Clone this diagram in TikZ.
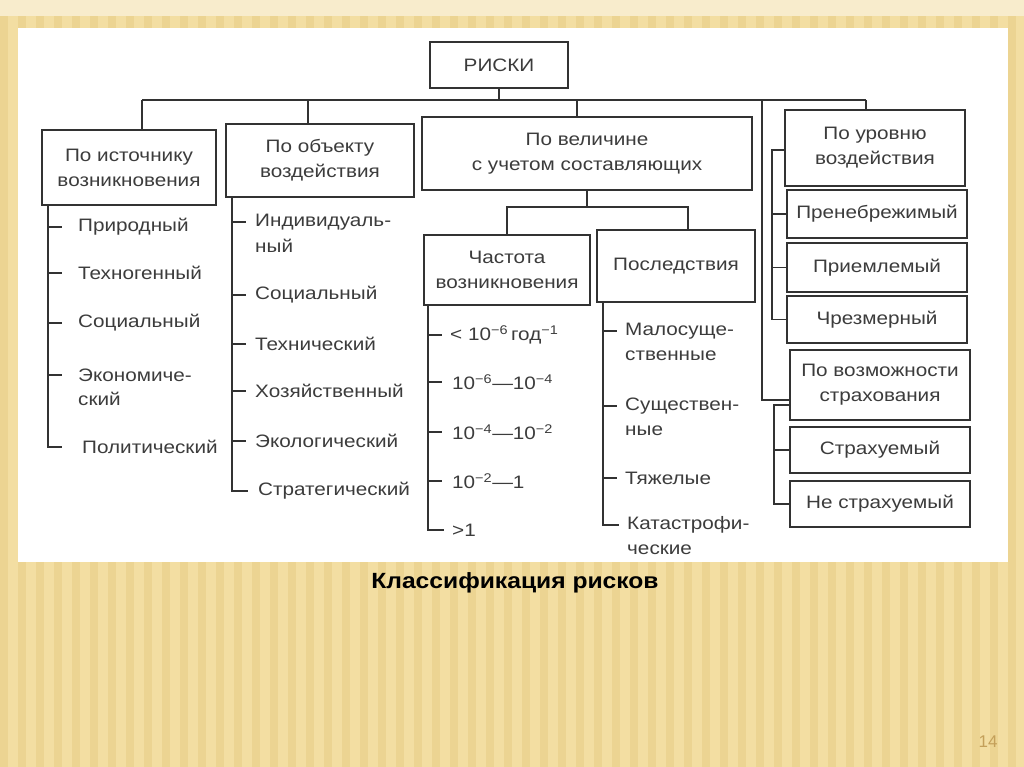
\documentclass[tikz,border=0pt]{standalone}
\usepackage{fontspec}
\setmainfont{Liberation Sans}
\newfontfamily\dfont[FakeStretch=1.15]{Liberation Sans}
\newfontfamily\cfont[FakeStretch=1.12]{Liberation Sans}
\definecolor{bgA}{RGB}{243,222,162}
\definecolor{bgB}{RGB}{236,212,146}
\definecolor{bgTop}{RGB}{248,236,204}
\definecolor{ink}{RGB}{50,50,50}
\definecolor{txt}{RGB}{60,60,60}
\definecolor{pg}{RGB}{196,160,90}
\begin{document}
\begin{tikzpicture}[x=1pt,y=-1pt,
  bx/.style={draw=ink, line width=1.4pt, fill=white, align=center,
    font=\dfont\fontsize{18}{25}\selectfont, text=txt, inner sep=2pt},
  lbl/.style={anchor=west, font=\dfont\fontsize{18}{25}\selectfont, text=txt, inner sep=0pt},
  ln/.style={draw=ink, line width=1.3pt}]
% background
\useasboundingbox (0,0) rectangle (1024,767);
\fill[bgA] (0,0) rectangle (1024,767);
\foreach \x in {0,18,...,1020} {\fill[bgB] (\x,0) rectangle ++(8,767);}
\fill[bgTop] (0,0) rectangle (1024,16);
\fill[white] (18,28) rectangle (1008,562);
% top
\node[bx, minimum width=138, minimum height=46] (riski) at (499,65) {РИСКИ};
\node[bx, minimum width=174, minimum height=75] (src) at (129,167.5) {По источнику\\возникновения};
\node[bx, minimum width=188, minimum height=73] (obj) at (320,160.5) {По объекту\\воздействия};
\node[bx, minimum width=330, minimum height=73] (mag) at (587,153.5) {По величине\\с учетом составляющих};
\node[bx, minimum width=180, minimum height=76] (lvl) at (875,148) {По уровню\\воздействия};
\node[bx, minimum width=166, minimum height=70] (freq) at (507,270) {Частота\\возникновения};
\node[bx, minimum width=158, minimum height=72] (cons) at (676,266) {Последствия};
\node[bx, minimum width=180, minimum height=48] (l1) at (877,214) {Пренебрежимый};
\node[bx, minimum width=180, minimum height=49] (l2) at (877,267.5) {Приемлемый};
\node[bx, minimum width=180, minimum height=47] (l3) at (877,319.5) {Чрезмерный};
\node[bx, minimum width=180, minimum height=70] (ins) at (880,385) {По возможности\\страхования};
\node[bx, minimum width=180, minimum height=46] (s1) at (880,450) {Страхуемый};
\node[bx, minimum width=180, minimum height=46] (s2) at (880,504) {Не страхуемый};
% bus
\coordinate (d1) at (142,100);
\coordinate (d2) at (308,100);
\coordinate (d3) at (577,100);
\coordinate (d5) at (762,100);
\coordinate (d4) at (866,100);
\draw[ln] (d1) -- (d4);
\draw[ln] (riski.south) -- (riski.south |- d1);
\draw[ln] (d1) -- (d1 |- src.north);
\draw[ln] (d2) -- (d2 |- obj.north);
\draw[ln] (d3) -- (d3 |- mag.north);
\draw[ln] (d4) -- (d4 |- lvl.north);
\draw[ln] (d5) |- ([yshift=-15]ins.west);
% magnitude branch
\coordinate (m1) at (587,207);
\draw[ln] (mag.south) -- (m1);
\draw[ln] (freq.north) |- (m1) -| ([xshift=12]cons.north);
% level branch
\coordinate (t5) at (772,150);
\draw[ln] (lvl.west |- t5) -- (t5) |- (l3.west);
\draw[ln] (l1.west -| t5) -- (l1.west);
\draw[ln] (l2.west -| t5) -- (l2.west);
% insurance branch
\coordinate (t6) at (774,405);
\draw[ln] (t6 -| ins.west) -- (t6) |- (s2.west);
\draw[ln] (s1.west -| t6) -- (s1.west);
% column 1
\coordinate (t1) at (48,205);
\node[lbl] (i1) at (78,227) {Природный};
\node[lbl] (i2) at (78,273) {Техногенный};
\node[lbl] (i3) at (78,323) {Социальный};
\node[lbl] (i4) at (78,375) {Экономиче-};
\node[lbl] (i4b) at (78,399) {ский};
\node[lbl] (i5) at (82,447) {Политический};
\draw[ln] (t1) |- ([xshift=-20]i5.west);
\foreach \n in {i1,i2,i3,i4} {\draw[ln] (\n.west -| t1) -- ++(14,0);}
% column 2
\coordinate (t2) at (232,197);
\node[lbl] (j1) at (255,222) {Индивидуаль-};
\node[lbl] (j1b) at (255,246) {ный};
\node[lbl] (j2) at (255,295) {Социальный};
\node[lbl] (j3) at (255,344) {Технический};
\node[lbl] (j4) at (255,391) {Хозяйственный};
\node[lbl] (j5) at (255,441) {Экологический};
\node[lbl] (j6) at (258,491) {Стратегический};
\draw[ln] (t2) |- ([xshift=-10]j6.west);
\foreach \n in {j1,j2,j3,j4,j5} {\draw[ln] (\n.west -| t2) -- ++(14,0);}
% frequency column
\coordinate (t3) at (428,305);
\node[lbl] (f1) at (450,335) {< 10\textsuperscript{−6}\,год\textsuperscript{−1}};
\node[lbl] (f2) at (452,382) {10\textsuperscript{−6}—10\textsuperscript{−4}};
\node[lbl] (f3) at (452,432) {10\textsuperscript{−4}—10\textsuperscript{−2}};
\node[lbl] (f4) at (452,481) {10\textsuperscript{−2}—1};
\node[lbl] (f5) at (452,530) {>1};
\draw[ln] (t3) |- ([xshift=-8]f5.west);
\foreach \n in {f1,f2,f3,f4} {\draw[ln] (\n.west -| t3) -- ++(14,0);}
% consequences column
\coordinate (t4) at (603,302);
\node[lbl] (c1) at (625,331) {Малосуще-};
\node[lbl] (c1b) at (625,356) {ственные};
\node[lbl] (c2) at (625,406) {Существен-};
\node[lbl] (c2b) at (625,431) {ные};
\node[lbl] (c3) at (625,478) {Тяжелые};
\node[lbl] (c4) at (627,525) {Катастрофи-};
\node[lbl] (c4b) at (627,550) {ческие};
\draw[ln] (t4) |- ([xshift=-8]c4.west);
\foreach \n in {c1,c2,c3} {\draw[ln] (\n.west -| t4) -- ++(14,0);}
% caption and page number
\node[font=\cfont\bfseries\fontsize{22}{26}\selectfont, text=black] (cap) at (515,583) {Классификация рисков};
\node[font=\fontsize{17}{19}\selectfont, text=pg] (pgn) at (988,742) {14};
\end{tikzpicture}
\end{document}
